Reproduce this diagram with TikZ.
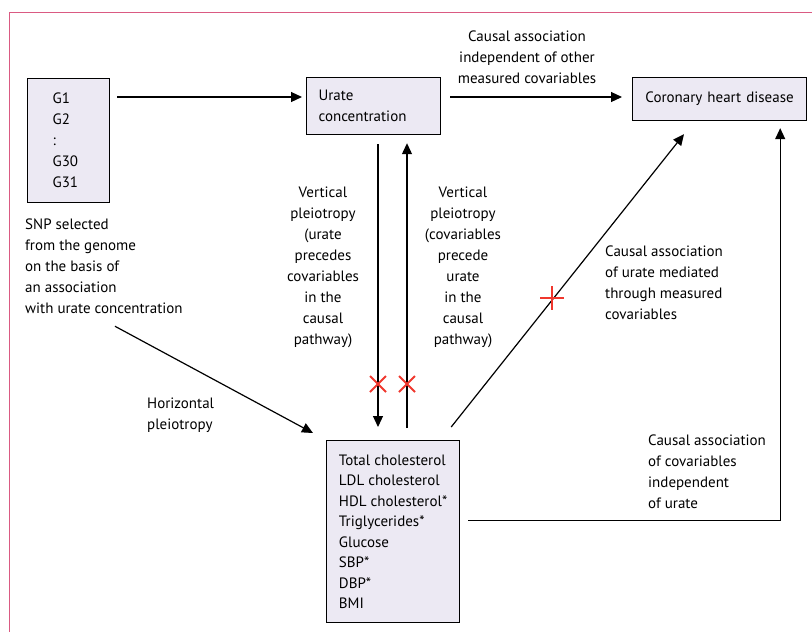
\documentclass[tikz,border=0pt]{standalone}
\usepackage{fontspec}
\setmainfont{PT Sans}
\usetikzlibrary{arrows.meta}
\definecolor{boxfill}{RGB}{236,233,243}
\definecolor{crossred}{RGB}{240,55,45}
\definecolor{framepink}{RGB}{218,90,130}
\tikzset{
  box/.style={draw=black, line width=1.2pt, fill=boxfill, inner ysep=0pt},
  lbl/.style={inner sep=0pt, font=\fontsize{15}{21}\selectfont},
  arr/.style={line width=1.2pt, -{Triangle[length=11pt,width=10pt]}},
  ln/.style={line width=1.2pt},
  xmark/.style={draw=crossred, line width=2pt}
}
\begin{document}
\begin{tikzpicture}[x=1pt,y=-1pt]
\useasboundingbox (0,0) rectangle (812,632);
\draw[framepink, line width=1pt] (9,632) -- (9,12) -- (812,12);

% boxes
\node[box, anchor=north west, minimum width=82pt, minimum height=124pt,
      inner xsep=25pt, text width=32pt, align=left,
      font=\fontsize{15}{21}\selectfont] (g) at (27,78)
  {G1\\G2\\:\\G30\\G31};
\node[box, anchor=north west, minimum width=134pt, minimum height=57pt,
      inner xsep=12pt, text width=110pt, align=left,
      font=\fontsize{15}{21}\selectfont] (urate) at (306,77)
  {Urate\\concentration};
\node[box, anchor=north west, minimum width=174pt, minimum height=43pt,
      inner xsep=4pt, text width=166pt, align=center,
      font=\fontsize{15}{21}\selectfont] (chd) at (632,77)
  {Coronary heart disease};
\node[box, anchor=north west, minimum width=133pt, minimum height=182pt,
      inner xsep=8pt, align=left,
      font=\fontsize{15}{20.5}\selectfont] (cov) at (326,440)
  {Total cholesterol\\LDL cholesterol\\HDL cholesterol*\\Triglycerides*\\Glucose\\SBP*\\DBP*\\BMI};

% labels
\node[lbl, anchor=north, align=center] (lindep) at (527,31)
  {Causal association\\independent of other\\measured covariables};
\node[lbl, anchor=north west, align=left] (snp) at (25,219)
  {SNP selected\\from the genome\\on the basis of\\an association\\with urate concentration};
\node[lbl, anchor=north, align=center] (vleft) at (323,187)
  {Vertical\\pleiotropy\\(urate\\precedes\\covariables\\in the\\causal\\pathway)};
\node[lbl, anchor=north, align=center] (vright) at (463,187)
  {Vertical\\pleiotropy\\(covariables\\precede\\urate\\in the\\causal\\pathway)};
\node[lbl, anchor=north west, align=left] (lmed) at (605,246)
  {Causal association\\of urate mediated\\through measured\\covariables};
\node[lbl, anchor=north west, align=left] (lhor) at (147,398)
  {Horizontal\\pleiotropy};
\node[lbl, anchor=north west, align=left] (lcovind) at (648,435)
  {Causal association\\of covariables\\independent\\of urate};

% connectors
\draw[arr] ([xshift=7pt,yshift=-19pt]g.north east) -- ([xshift=-4pt,yshift=-20pt]urate.north west);
\draw[arr] ([xshift=9pt,yshift=-20pt]urate.north east) -- ([xshift=-10pt,yshift=-20pt]chd.north west);
\draw[arr] ([xshift=72pt,yshift=-9pt]urate.south west) -- ([xshift=52pt,yshift=13pt]cov.north west);
\draw[arr] ([xshift=81pt,yshift=12pt]cov.north west) -- ([xshift=101pt,yshift=-8pt]urate.south west);
\draw[arr] ([xshift=-9pt,yshift=13pt]cov.north east) -- ([xshift=52pt,yshift=-13pt]chd.south west);
\draw[arr] ([xshift=8pt,yshift=11pt]cov.east) -| ([xshift=-27pt,yshift=-7pt]chd.south east);
\draw[arr] ([xshift=90pt,yshift=-12pt]snp.south west) -- ([xshift=-13pt,yshift=7pt]cov.north west);

% crosses
\foreach \cx in {378,407} {
  \draw[xmark] (\cx-8,384-8) -- (\cx+8,384+8);
  \draw[xmark] (\cx-8,384+8) -- (\cx+8,384-8);
}
\draw[xmark] (540,298) -- (564,298);
\draw[xmark] (552,286) -- (552,310);
\end{tikzpicture}
\end{document}
